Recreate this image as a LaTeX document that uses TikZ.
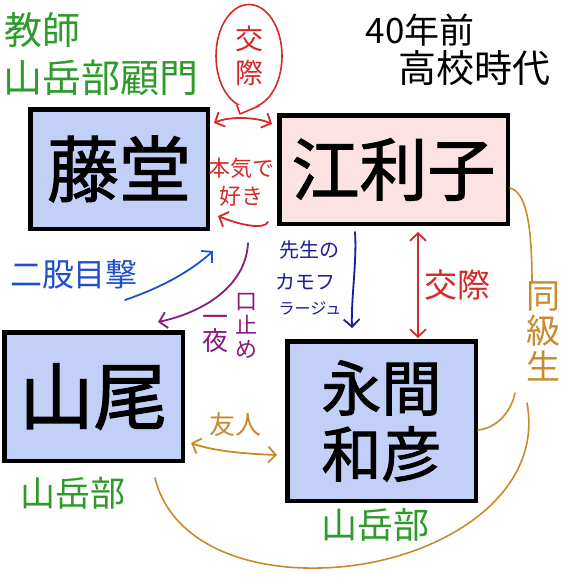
\documentclass[tikz,border=0pt]{standalone}
\usepackage{fontspec}
\newfontfamily\jp{Noto Sans CJK JP}
\newfontfamily\jpb[FakeBold=1.5]{Noto Sans CJK JP}
\usetikzlibrary{arrows.meta,shapes.geometric}
\definecolor{cgreen}{HTML}{2E9A2A}
\definecolor{cred}{HTML}{D42A2A}
\definecolor{cblue}{HTML}{2050C8}
\definecolor{cnavy}{HTML}{1C1C9C}
\definecolor{cpurple}{HTML}{8A1A7E}
\definecolor{corange}{HTML}{C98A2C}
\definecolor{boxblue}{HTML}{C2D0F8}
\definecolor{boxpink}{HTML}{FCE2E2}
\newcommand{\fsz}[1]{\fontsize{#1}{#1}\selectfont}
\begin{document}
\begin{tikzpicture}[x=1pt,y=-1pt,
  person/.style={draw=black,line width=4.5pt,inner sep=0pt,align=center},
  lbl/.style={inner sep=0pt,align=center},
  tipb/.tip={Straight Barb[length=7.5pt,width=16pt,line width=1.8pt]},
  conn/.style={line width=1.8pt,line cap=round,-tipb},
  dconn/.style={line width=1.8pt,line cap=round,tipb-tipb},
  plain/.style={line width=1.6pt,line cap=round}
]
\useasboundingbox (0,0) rectangle (568,587);
\fill[white] (0,0) rectangle (568,587);

% person boxes
\node[person,fill=boxblue,minimum width=177.5pt,minimum height=119.5pt,font=\jpb\fsz{72}] (touto) at (119,169) {藤堂};
\node[person,fill=boxpink,minimum width=228.5pt,minimum height=108.5pt,font=\jpb\fsz{68}] (eriko) at (393.5,169.5) {江利子};
\node[person,fill=boxblue,minimum width=178.5pt,minimum height=128.5pt,font=\jpb\fsz{74}] (yamao) at (93.5,396.5) {山尾};
\node[person,fill=boxblue,minimum width=188.5pt,minimum height=159.5pt,font=\jpb\fontsize{60}{66}\selectfont] (nagama) at (381.5,421) {永間\\和彦};

% labels
\node[lbl,anchor=west,text=cgreen,font=\jp\fsz{38}] (kyoshi) at (4,30) {教師};
\node[lbl,anchor=west,text=cgreen,font=\jp\fsz{39}] (komon) at (3,78) {山岳部顧門};
\node[lbl,text=black,font=\jp\fsz{35}] (yonju) at (420,30) {40年前};
\node[lbl,text=black,font=\jp\fsz{38}] (koko) at (474,68) {高校時代};
\node[ellipse,draw=cred,line width=1.6pt,minimum width=66pt,minimum height=103pt,inner sep=0pt,text=cred,font=\jp\fontsize{28}{34}\selectfont,align=center] (bubble) at (249,56) {交\\際};
\fill[white] (bubble.-104) -- (240,114) -- (bubble.-78) -- cycle;
\draw[cred,line width=1.6pt,line join=round] (bubble.-104) -- (240,114) -- (bubble.-78);
\node[lbl,text=cred,font=\jp\fontsize{22}{28}\selectfont] (honki) at (241,182) {本気で\\好き};
\node[lbl,text=cblue,font=\jp\fsz{32}] (nimata) at (74,274) {二股目撃};
\node[lbl,text=cnavy,font=\jp\fsz{20}] (sensei1) at (309,250) {先生の};
\node[lbl,text=cnavy,font=\jp\fsz{20}] (sensei2) at (305,282) {カモフ};
\node[lbl,text=cnavy,font=\jp\fsz{16}] (sensei3) at (310,308) {ラージュ};
\node[lbl,text=cred,font=\jp\fsz{33}] (kosai) at (457,285) {交際};
\node[lbl,text=cpurple,font=\jp\fontsize{22}{24}\selectfont] (kuchi) at (246,326) {口\\止\\め};
\node[lbl,text=cpurple,font=\jp\fontsize{26}{24}\selectfont] (ichiya) at (215,334) {一\\夜};
\node[lbl,text=corange,font=\jp\fsz{26}] (yujin) at (235,425) {友人};
\node[lbl,text=corange,font=\jp\fontsize{34}{35.5}\selectfont] (dokyu) at (543,331) {同\\級\\生};
\node[lbl,text=cgreen,font=\jp\fsz{35}] (sangaku1) at (73,493) {山岳部};
\node[lbl,text=cgreen,font=\jp\fsz{36}] (sangaku2) at (375,525) {山岳部};

% free ends
\coordinate (bluestart) at (125,300);
\coordinate (purstart) at (248,243);
\coordinate (ortop) at (532,283);
\coordinate (orcurl) at (515,393);
\coordinate (orbig) at (527,403);

% connectors
\draw[cred,dconn] ([xshift=4pt,yshift=-16pt]touto.north east) .. controls +(15,-7) and +(-15,-7) .. ([xshift=-5pt,yshift=-11pt]eriko.north west);
\draw[cred,conn] ([xshift=-9pt,yshift=4pt]eriko.south west) .. controls +(-4,8) and +(22,9) .. ([xshift=8pt,yshift=15pt]touto.south east);
\draw[cblue,conn] (bluestart) .. controls (160,288) and (190,272) .. ([xshift=3pt,yshift=-20pt]touto.south east);
\draw[cpurple,conn] (purstart) .. controls (246,285) and (205,312) .. ([xshift=-27pt,yshift=8pt]yamao.north east);
\draw[cnavy,conn] ([xshift=-38.5pt,yshift=-6pt]eriko.south) .. controls +(2,30) and +(-1,-30) .. ([xshift=-29.5pt,yshift=11pt]nagama.north);
\draw[cred,dconn] ([xshift=24.5pt,yshift=-6pt]eriko.south) -- ([xshift=36.5pt,yshift=1pt]nagama.north);
\draw[corange,dconn] ([xshift=6pt,yshift=-46.5pt]yamao.east) .. controls +(25,9) and +(-25,-1) .. ([xshift=-8pt,yshift=-34pt]nagama.west);
\draw[corange,plain] ([yshift=-18.5pt]eriko.east) .. controls +(15,4) and (532,220) .. (ortop);
\draw[corange,plain] (orcurl) .. controls (511,412) and (497,428) .. ([yshift=-9pt]nagama.east);
\draw[corange,plain] (orbig) .. controls (545,500) and (430,566) .. (320,568) .. controls (240,570) and (170,540) .. ([xshift=-30pt,yshift=-15pt]yamao.south east);
\end{tikzpicture}
\end{document}
